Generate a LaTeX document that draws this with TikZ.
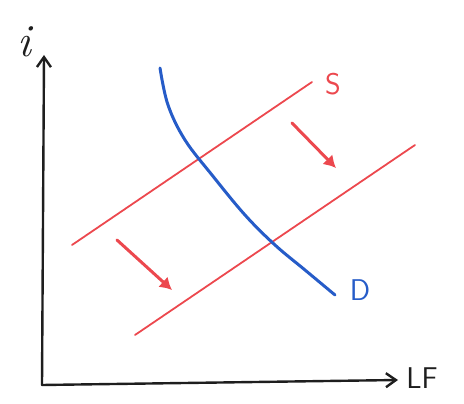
\documentclass[tikz,border=0pt]{standalone}
\usetikzlibrary{arrows.meta}
\definecolor{penred}{RGB}{236,72,78}
\definecolor{penblue}{RGB}{38,92,200}
\definecolor{penblack}{RGB}{30,30,30}
\tikzset{
  axis/.style={penblack, line width=2.4pt, line cap=round, -{Straight Barb[length=10pt,width=14pt]}},
  supply/.style={penred, line width=1.8pt, line cap=round},
  shift arrow/.style={penred, line width=3pt, line cap=round, -{Latex[length=12pt,width=14pt]}},
  demand/.style={penblue, line width=3pt, line cap=round},
  lab/.style={font=\fontsize{30}{32}\selectfont\sffamily},
}
\begin{document}
\begin{tikzpicture}[x=1pt,y=-1pt]
\useasboundingbox (0,0) rectangle (464,404);
% axes
\coordinate (O) at (42,385);
\coordinate (ytop) at (44,55);
\coordinate (xend) at (398,380);
\draw[axis] (O) -- (ytop);
\draw[axis] (O) -- (xend);
\node[penblack, font=\fontsize{46}{48}\selectfont\itshape] (ilab) at (24,42) {i};
\node[lab, penblack] (lflab) at (422,378) {LF};
% supply curves
\coordinate (s1a) at (72,245);
\coordinate (s1b) at (312,82);
\coordinate (s2a) at (135,335);
\coordinate (s2b) at (415,145);
\draw[supply] (s1a) -- (s1b);
\draw[supply] (s2a) -- (s2b);
\node[lab, penred] (slab) at (333,84) {S};
% shift arrows
\coordinate (a1s) at (117,240);
\coordinate (a1e) at (172,290);
\coordinate (a2s) at (292,123);
\coordinate (a2e) at (336,168);
\draw[shift arrow] (a1s) -- (a1e);
\draw[shift arrow] (a2s) -- (a2e);
% demand curve
\draw[demand] plot[smooth, tension=0.6] coordinates {(160,68) (168,105) (185,140) (212,175) (245,215) (275,245) (305,270) (335,295)};
\node[lab, penblue] (dlab) at (360,290) {D};
\end{tikzpicture}
\end{document}
